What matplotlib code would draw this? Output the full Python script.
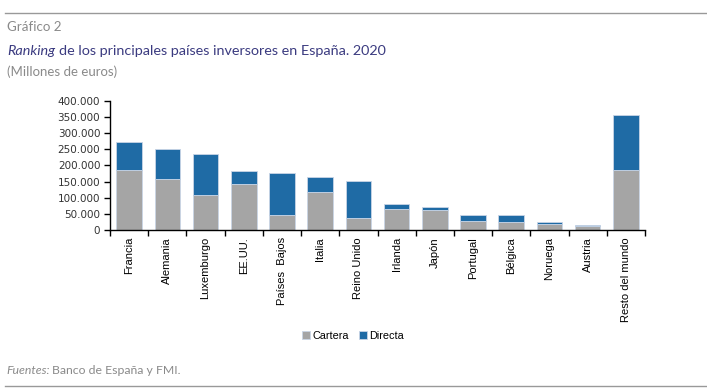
import numpy as np
import matplotlib
matplotlib.use('Agg')
import matplotlib.pyplot as plt
from matplotlib import font_manager
from matplotlib.ticker import FuncFormatter

paises = ['Francia', 'Alemania', 'Luxemburgo', 'EE.UU.', 'Países  Bajos', 'Italia',
          'Reino Unido', 'Irlanda', 'Japón', 'Portugal', 'Bélgica', 'Noruega',
          'Austria', 'Resto del mundo']
cartera = [186000, 158000, 108000, 142000, 46000, 117000, 36000, 65000, 63000,
           28000, 24000, 18500, 13500, 186000]
total = [272000, 250000, 236000, 182000, 178000, 163000, 153000, 80500, 72000,
         46500, 46500, 26000, 16500, 357000]
directa = [t - c for t, c in zip(total, cartera)]

# fuente estrecha para titulos si existe
nombres = set(f.name for f in font_manager.fontManager.ttflist)
titulo_font = 'Liberation Sans Narrow' if 'Liberation Sans Narrow' in nombres else 'Lato'

gris = '#a5a5a5'
azul = '#1f6ba5'
borde = '#c9d5e6'

fig = plt.figure(figsize=(7.07, 3.89), dpi=100)
ax = fig.add_axes([110 / 707, 1 - 230 / 389, 535 / 707, 129 / 389])

x = np.arange(len(paises))
ax.bar(x, cartera, width=0.67, color=gris, edgecolor=borde, linewidth=0.6, label='Cartera')
ax.bar(x, directa, width=0.67, bottom=cartera, color=azul, edgecolor=borde, linewidth=0.6,
       label='Directa')

ax.set_xlim(-0.5, len(paises) - 0.5)
ax.set_ylim(0, 400000)
ax.set_yticks(np.arange(0, 400001, 50000))
ax.yaxis.set_major_formatter(FuncFormatter(lambda v, p: f'{int(v):,}'.replace(',', '.')))
for s in ['top', 'right']:
    ax.spines[s].set_visible(False)
ax.spines['left'].set_linewidth(1.0)
ax.spines['bottom'].set_linewidth(1.0)

ax.set_xticks(x)
ax.set_xticklabels(paises, rotation=90, fontsize=8, family='Liberation Sans')
ax.tick_params(axis='x', length=0, pad=5)
ax.set_xticks(np.arange(-0.5, len(paises), 1), minor=True)
ax.tick_params(axis='x', which='minor', length=4, direction='out', width=1)
ax.tick_params(axis='y', length=4, direction='out', width=1, labelsize=7.5, pad=3,
               labelcolor='#333333')

leg = fig.legend(loc='center', bbox_to_anchor=(353 / 707, 1 - 336 / 389), ncol=2, frameon=False,
                 prop={'family': 'Liberation Sans', 'size': 7.8}, handlelength=0.8,
                 handleheight=0.8, handletextpad=0.2, columnspacing=0.9)

# textos de cabecera
fig.add_artist(plt.Line2D([5 / 707, 1], [1 - 13 / 389] * 2, color='#999999', lw=1))
fig.add_artist(plt.Line2D([5 / 707, 1], [1 - 386 / 389] * 2, color='#999999', lw=1))
fig.text(7 / 707, 1 - 27 / 389, 'Gráfico 2', fontsize=9.6, color='#8a8a8a', va='center',
         family=titulo_font)
t1 = fig.text(7 / 707, 1 - 51 / 389, 'Ranking', fontsize=10.4, color='#3b3b80', va='center',
              style='italic', family=titulo_font)
fig.canvas.draw()
bb = t1.get_window_extent()
fig.text((bb.x1 + 4) / 707, 1 - 51 / 389,
         'de los principales países inversores en España. 2020',
         fontsize=10.4, color='#3b3b80', va='center', family=titulo_font)
fig.text(7 / 707, 1 - 72 / 389, '(Millones de euros)', fontsize=9.5, color='#8a8a8a',
         va='center', family=titulo_font)
t2 = fig.text(6 / 707, 1 - 370 / 389, 'Fuentes:', fontsize=8.8, color='#8a8a8a', va='center',
              style='italic', family=titulo_font)
fig.canvas.draw()
bb = t2.get_window_extent()
fig.text((bb.x1 + 3) / 707, 1 - 370 / 389, 'Banco de España y FMI.', fontsize=8.8,
         color='#8a8a8a', va='center', family=titulo_font)

fig.savefig('out.png', dpi=100)
